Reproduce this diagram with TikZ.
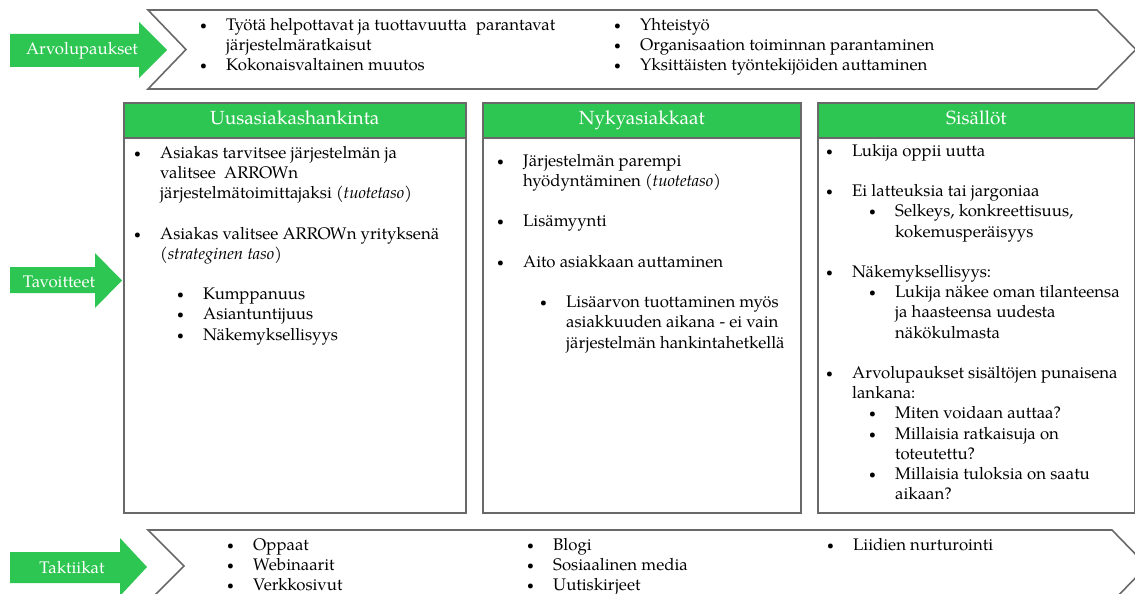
\documentclass[tikz,border=0pt]{standalone}
\usepackage{fontspec}
\setmainfont{TeX Gyre Pagella}
\definecolor{arrowgreen}{RGB}{46,198,82}
\definecolor{framegray}{RGB}{105,105,105}
\newcommand\smallbul{\hspace*{1pt}\raisebox{1pt}{\scalebox{0.72}{\textbullet}}}
\newcommand\bl{\strut\makebox[27pt][l]{\smallbul}}
\newcommand\ind{\strut\hspace*{27pt}}
\newcommand\sbl{\strut\hspace*{43pt}\makebox[27pt][l]{\smallbul}}
\newcommand\sind{\strut\hspace*{70pt}}
\tikzset{
  chevron/.style={draw=framegray, line width=1.6pt, fill=white},
  greenarrow/.style={fill=arrowgreen},
  arrowlabel/.style={text=white, anchor=base, inner sep=0pt, font=\fontsize{16.8}{20}\selectfont},
  colbox/.style={draw=framegray, line width=1.6pt, anchor=north west, inner sep=0pt, minimum height=410pt},
  colhead/.style={draw=framegray, line width=1.6pt, fill=arrowgreen, text=white, anchor=north west, inner sep=0pt,
    minimum height=35pt, text height=13pt, text depth=4pt, font=\fontsize{19}{22}\selectfont},
  bullets/.style={anchor=north west, align=left, inner sep=0pt, font=\fontsize{16.8}{20.2}\selectfont}
}
\begin{document}
\begin{tikzpicture}[x=1pt,y=-1pt]
\useasboundingbox (0,0) rectangle (1135,594);
\clip (0,0) rectangle (1135,594);
\draw[chevron] (148,10) -- (1097,10) -- (1136,49.5) -- (1097,89) -- (148,89) -- (186,49.5) -- cycle;
\fill[greenarrow] (10,34) -- (139,34) -- (139,22) -- (167,50) -- (139,78) -- (139,67) -- (10,67) -- cycle;
\node[arrowlabel] (arvo) at (82,55) {Arvolupaukset};
\node[bullets] (vp1) at (199,16) {\bl Työtä helpottavat ja tuottavuutta\hspace{5pt} parantavat\\
  \ind järjestelmäratkaisut\\
  \bl Kokonaisvaltainen muutos};
\node[bullets] (vp2) at (613,16) {\bl Yhteistyö\\
  \bl Organisaation toiminnan parantaminen\\
  \bl Yksittäisten työntekijöiden auttaminen};

\fill[greenarrow] (10,267) -- (95,267) -- (95,253) -- (122,280.5) -- (95,308) -- (95,293) -- (10,293) -- cycle;
\node[arrowlabel] (tav) at (59,287) {Tavoitteet};

\node[colbox, minimum width=342pt] (b1) at (123,102) {};
\node[colhead, minimum width=342pt] (h1) at (b1.north west) {Uusasiakashankinta};
\node[bullets] (t1) at (133,144) {\bl Asiakas tarvitsee järjestelmän ja\\
  \ind valitsee\hspace{4pt} ARROWn\\
  \ind järjestelmätoimittajaksi \textit{(tuotetaso)}\\[20.2pt]
  \bl Asiakas valitsee ARROWn yrityksenä\\
  \ind\textit{(strateginen taso)}\\[20.2pt]
  \sbl Kumppanuus\\
  \sbl Asiantuntijuus\\
  \sbl Näkemyksellisyys};

\node[colbox, minimum width=318pt] (b2) at (482,102) {};
\node[colhead, minimum width=318pt] (h2) at (b2.north west) {Nykyasiakkaat};
\node[bullets] (t2) at (496,152) {\bl Järjestelmän parempi\\
  \ind hyödyntäminen \textit{(tuotetaso)}\\[20.2pt]
  \bl Lisämyynti\\[20.2pt]
  \bl Aito asiakkaan auttaminen\\[20.2pt]
  \sbl Lisäarvon tuottaminen myös\\
  \sind asiakkuuden aikana - ei vain\\
  \sind järjestelmän hankintahetkellä};

\node[colbox, minimum width=317pt] (b3) at (817,102) {};
\node[colhead, minimum width=317pt] (h3) at (b3.north west) {Sisällöt};
\node[bullets] (t3) at (825,142) {\bl Lukija oppii uutta\\[20.2pt]
  \bl Ei latteuksia tai jargoniaa\\
  \sbl Selkeys, konkreettisuus,\\
  \sind kokemusperäisyys\\[20.2pt]
  \bl Näkemyksellisyys:\\
  \sbl Lukija näkee oman tilanteensa\\
  \sind ja haasteensa uudesta\\
  \sind näkökulmasta\\[20.2pt]
  \bl Arvolupaukset sisältöjen punaisena\\
  \ind lankana:\\
  \sbl Miten voidaan auttaa?\\
  \sbl Millaisia ratkaisuja on\\
  \sind toteutettu?\\
  \sbl Millaisia tuloksia on saatu\\
  \sind aikaan?};

\draw[chevron] (148,530) -- (1112,530) -- (1147,566) -- (1112,602) -- (148,602) -- (184,566) -- cycle;
\fill[greenarrow] (10,552) -- (120,552) -- (120,538) -- (147,567) -- (120,596) -- (120,583) -- (10,583) -- cycle;
\node[arrowlabel] (takt) at (72,573) {Taktiikat};
\node[bullets] (tk1) at (226,536) {\bl Oppaat\\ \bl Webinaarit\\ \bl Verkkosivut};
\node[bullets] (tk2) at (526,536) {\bl Blogi\\ \bl Sosiaalinen media\\ \bl Uutiskirjeet};
\node[bullets] (tk3) at (826,536) {\bl Liidien nurturointi};
\end{tikzpicture}
\end{document}
